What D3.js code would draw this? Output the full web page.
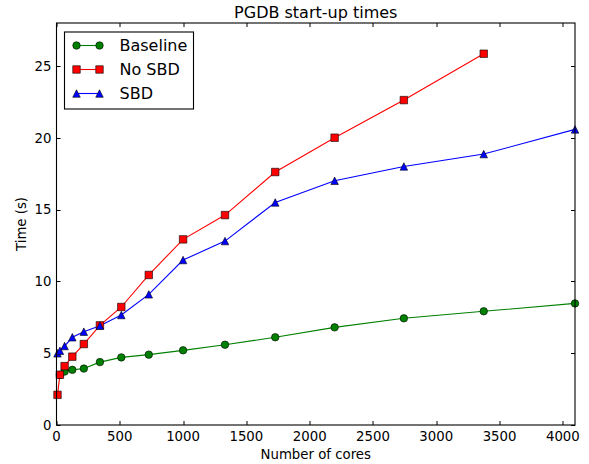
<!DOCTYPE html>
<html>
<head>
<meta charset="utf-8">
<script src="https://cdn.jsdelivr.net/npm/d3@7"></script>
<style>
  body { margin: 0; background: #fff; }
  text { font-family: "DejaVu Sans", sans-serif; fill: #000; }
</style>
</head>
<body>
<div id="vis"></div>
<script>
'use strict';

//data (null = no measurement at that core count)
var cores = [8, 27, 64, 125, 216, 343, 512, 729, 1000, 1331, 1728, 2197, 2744, 3375, 4096];
var baseline = [null, 3.5, 3.72, 3.84, 3.93, 4.38, 4.71, 4.90, 5.20, 5.59, 6.11, 6.80, 7.43, 7.92, 8.47];
var noSbd = [2.1, 3.5, 4.1, 4.76, 5.64, 6.94, 8.22, 10.45, 12.93, 14.62, 17.62, 20.01, 22.63, 25.86, null];
var sbd = [4.99, 5.17, 5.5, 6.11, 6.5, 6.92, 7.66, 9.10, 11.49, 12.81, 15.5, 17.01, 18.01, 18.87, 20.59];
var xTicks = [0, 500, 1000, 1500, 2000, 2500, 3000, 3500, 4000];
var yTicks = [0, 5, 10, 15, 20, 25];

//layout
var W = 589, H = 464;
var margin = { top: 23, right: 14, bottom: 39, left: 56.5 };
var dim = { w: W - margin.left - margin.right, h: H - margin.top - margin.bottom };

var x = d3.scaleLinear().domain([0, 4096]).range([0, dim.w]);
var y = d3.scaleLinear().domain([0, 28]).range([dim.h, 0]);

var series = [
    { name: 'Baseline', values: baseline, color: '#008000', marker: 'circle' },
    { name: 'No SBD', values: noSbd, color: '#ff0000', marker: 'square' },
    { name: 'SBD', values: sbd, color: '#0000ff', marker: 'triangle' }
];

var ms = 7.5;
var markerPath = {
    circle: d3.symbol().type(d3.symbolCircle).size(Math.PI * ms * ms / 4)(),
    square: 'M' + (-ms / 2) + ',' + (-ms / 2) + 'h' + ms + 'v' + ms + 'h' + (-ms) + 'Z',
    triangle: 'M0,' + (-ms / 2) + 'L' + (ms / 2) + ',' + (ms / 2) + 'L' + (-ms / 2) + ',' + (ms / 2) + 'Z'
};

var svg = d3.select('#vis').append('svg')
    .attr('width', W)
    .attr('height', H);

var g = svg.append('g')
    .attr('transform', 'translate(' + margin.left + ',' + margin.top + ')');

//ticks, pointing inward on all four sides
var tl = 4;
xTicks.forEach(function (t) {
    var xp = Math.round(x(t)) + 0.5;
    g.append('line').attr('x1', xp).attr('x2', xp).attr('y1', dim.h).attr('y2', dim.h - tl)
        .attr('stroke', '#000');
    g.append('line').attr('x1', xp).attr('x2', xp).attr('y1', 0).attr('y2', tl)
        .attr('stroke', '#000');
    g.append('text').attr('x', x(t)).attr('y', dim.h + 16)
        .attr('text-anchor', 'middle').style('font-size', '13.3px').text(t);
});
yTicks.forEach(function (t) {
    var yp = Math.round(y(t)) + 0.5;
    g.append('line').attr('x1', 0).attr('x2', tl).attr('y1', yp).attr('y2', yp)
        .attr('stroke', '#000');
    g.append('line').attr('x1', dim.w).attr('x2', dim.w - tl).attr('y1', yp).attr('y2', yp)
        .attr('stroke', '#000');
    g.append('text').attr('x', -5).attr('y', y(t)).attr('dy', '0.36em')
        .attr('text-anchor', 'end').style('font-size', '13.3px').text(t);
});

//lines and markers
var line = d3.line()
    .defined(function (d) { return d !== null; })
    .x(function (d, i) { return x(cores[i]); })
    .y(function (d) { return y(d); });

var plot = g.append('g');
series.forEach(function (s) {
    plot.append('path')
        .attr('d', line(s.values))
        .attr('fill', 'none')
        .attr('stroke', s.color)
        .attr('stroke-width', 1.1);
});
series.forEach(function (s) {
    var pts = s.values.map(function (v, i) { return { c: cores[i], v: v }; })
        .filter(function (p) { return p.v !== null; });
    plot.selectAll('.m-' + s.marker)
        .data(pts)
        .enter()
        .append('path')
        .attr('class', 'm-' + s.marker)
        .attr('d', markerPath[s.marker])
        .attr('transform', function (d) {
            return 'translate(' + x(d.c) + ',' + y(d.v) + ')';
        })
        .attr('fill', s.color)
        .attr('stroke', '#000')
        .attr('stroke-width', 0.6);
});

//frame
g.append('rect')
    .attr('x', 0).attr('y', 0)
    .attr('width', dim.w).attr('height', dim.h)
    .attr('fill', 'none').attr('stroke', '#000').attr('stroke-width', 1.1);

//legend
var leg = g.append('g').attr('transform', 'translate(8,9)');
leg.append('rect')
    .attr('x', 0).attr('y', 0).attr('width', 129).attr('height', 77)
    .attr('fill', '#fff').attr('stroke', '#000').attr('stroke-width', 1.1);
series.forEach(function (s, i) {
    var ly = 13.5 + i * 24;
    leg.append('line').attr('x1', 12).attr('x2', 35).attr('y1', ly).attr('y2', ly)
        .attr('stroke', s.color).attr('stroke-width', 1.1);
    [12, 35].forEach(function (lx) {
        leg.append('path').attr('d', markerPath[s.marker])
            .attr('transform', 'translate(' + lx + ',' + ly + ')')
            .attr('fill', s.color).attr('stroke', '#000').attr('stroke-width', 0.6);
    });
    leg.append('text').attr('x', 55).attr('y', ly).attr('dy', '0.36em')
        .style('font-size', '16px').text(s.name);
});

//titles
svg.append('text')
    .attr('x', margin.left + dim.w / 2).attr('y', 18)
    .attr('text-anchor', 'middle').style('font-size', '16px')
    .text('PGDB start-up times');
svg.append('text')
    .attr('x', margin.left + dim.w / 2).attr('y', 459)
    .attr('text-anchor', 'middle').style('font-size', '13.3px')
    .text('Number of cores');
svg.append('text')
    .attr('transform', 'translate(26,' + (margin.top + dim.h / 2) + ') rotate(-90)')
    .attr('text-anchor', 'middle').style('font-size', '13.3px')
    .text('Time (s)');
</script>
</body>
</html>
